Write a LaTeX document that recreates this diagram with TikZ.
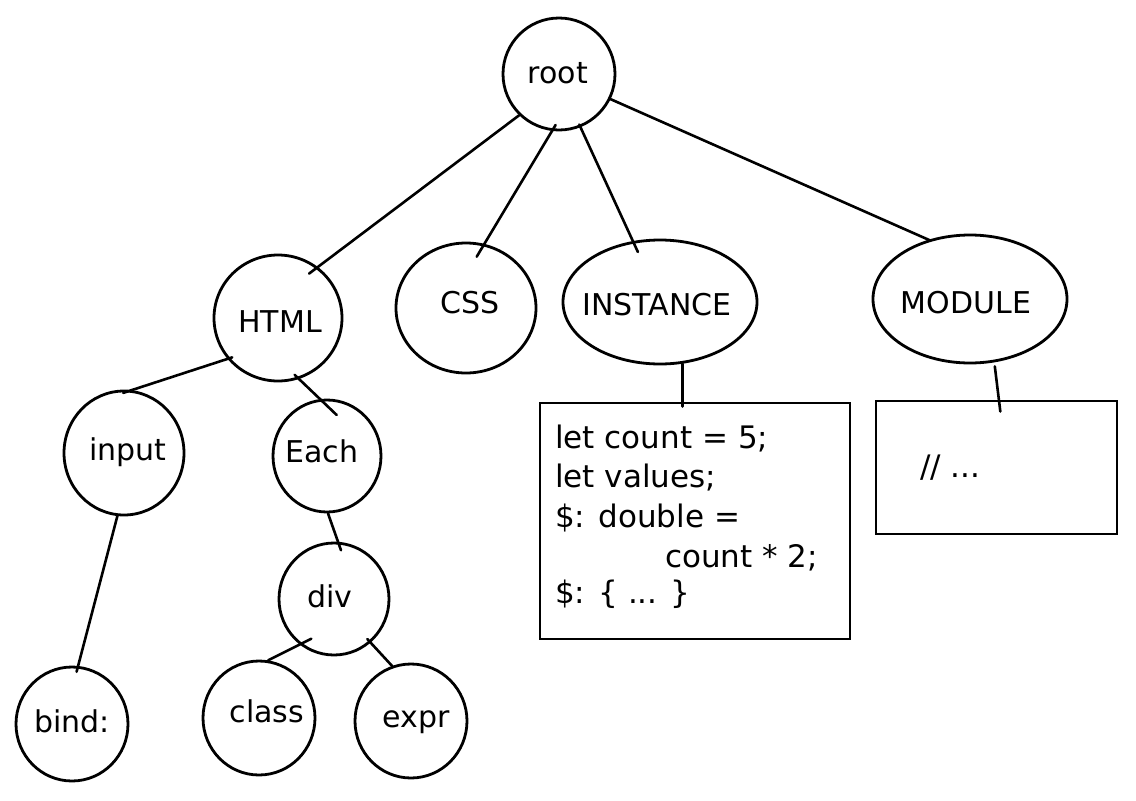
\documentclass[tikz,border=0pt]{standalone}
\usepackage{fontspec}
\setmainfont{DejaVu Sans}
\usetikzlibrary{shapes.geometric}
\begin{document}
\begin{tikzpicture}[x=1pt,y=-1pt,
  every node/.style={font=\fontsize{30}{36}\selectfont},
  bub/.style={ellipse, draw, line width=2.8pt, inner sep=0pt},
  codebox/.style={rectangle, draw, line width=2.8pt, inner sep=0pt},
  txt/.style={inner sep=0pt, anchor=base},
  codeline/.style={inner sep=0pt, anchor=base west, font=\fontsize{31}{36}\selectfont},
  link/.style={line width=2.6pt, line cap=round}]
\useasboundingbox (0,0) rectangle (1136,801);
% bubbles
\node[bub, minimum width=112pt, minimum height=112pt] (root) at (559,74) {};
\node[bub, minimum width=128pt, minimum height=126pt] (HTML) at (278,318) {};
\node[bub, minimum width=140pt, minimum height=130pt] (CSS) at (466,308) {};
\node[bub, minimum width=194pt, minimum height=124pt] (INST) at (660,302) {};
\node[bub, minimum width=194pt, minimum height=128pt] (MOD) at (970,299) {};
\node[bub, minimum width=120pt, minimum height=124pt] (input) at (124,453) {};
\node[bub, minimum width=108pt, minimum height=112pt] (Each) at (327,456) {};
\node[bub, minimum width=110pt, minimum height=112pt] (div) at (334,599) {};
\node[bub, minimum width=112pt, minimum height=114pt] (bind) at (72,724) {};
\node[bub, minimum width=112pt, minimum height=114pt] (class) at (259,718) {};
\node[bub, minimum width=112pt, minimum height=114pt] (expr) at (411,721) {};
% boxes
\node[codebox, minimum width=310pt, minimum height=236pt] (instbox) at (695,521) {};
\node[codebox, minimum width=241pt, minimum height=133pt] (modbox) at (996.5,467.5) {};
% labels
\node[txt] (rootT) at (558,83) {root};
\node[txt] (HTMLT) at (280,332) {HTML};
\node[txt] (CSST) at (470,313) {CSS};
\node[txt] (INSTT) at (657,315) {INSTANCE};
\node[txt] (MODT) at (966,313) {MODULE};
\node[txt] (inputT) at (128,460) {input};
\node[txt] (EachT) at (322,462) {Each};
\node[txt] (divT) at (330,607) {div};
\node[txt] (bindT) at (72,732) {bind:};
\node[txt] (classT) at (267,722) {class};
\node[txt] (exprT) at (416,727) {expr};
% code
\node[codeline] (c1) at (555,448) {let count = 5;};
\node[codeline] (c2) at (555,487) {let values;};
\node[codeline] (c3) at (555,527) {\$: double =};
\node[codeline] (c4) at (665,567) {count * 2;};
\node[codeline] (c5) at (555,603) {\$: \{ ... \}};
\node[codeline] (m1) at (920,477) {// ...};
% connectors
\draw[link, shorten >=-11pt] (root.226) -- (HTML.52);
\draw[link, shorten <=-7pt, shorten >=-15pt] (root.263) -- (CSS.74);
\draw[link, shorten <=-3pt, shorten >=-12pt] (root.292) -- (INST.114);
\draw[link, shorten >=-2pt] (root.334) -- (MOD.125);
\draw[link, shorten <=-5pt, shorten >=-9pt] (HTML.219) -- (input.83);
\draw[link, shorten <=-6pt, shorten >=-23pt] (HTML.289) -- (Each.97);
\draw[link, shorten >=-6pt] (input.264) -- (bind.84);
\draw[link, shorten >=-9pt] (Each.271) -- (div.86);
\draw[link, shorten <=-13pt] (div.233) -- (class.81);
\draw[link, shorten <=-5pt] (div.310) -- (expr.109);
\draw[link, shorten >=-5pt] (INST.290) -- (instbox.96);
\draw[link, shorten <=4pt, shorten >=-12pt] (MOD.291) -- (modbox.88);
\end{tikzpicture}
\end{document}
